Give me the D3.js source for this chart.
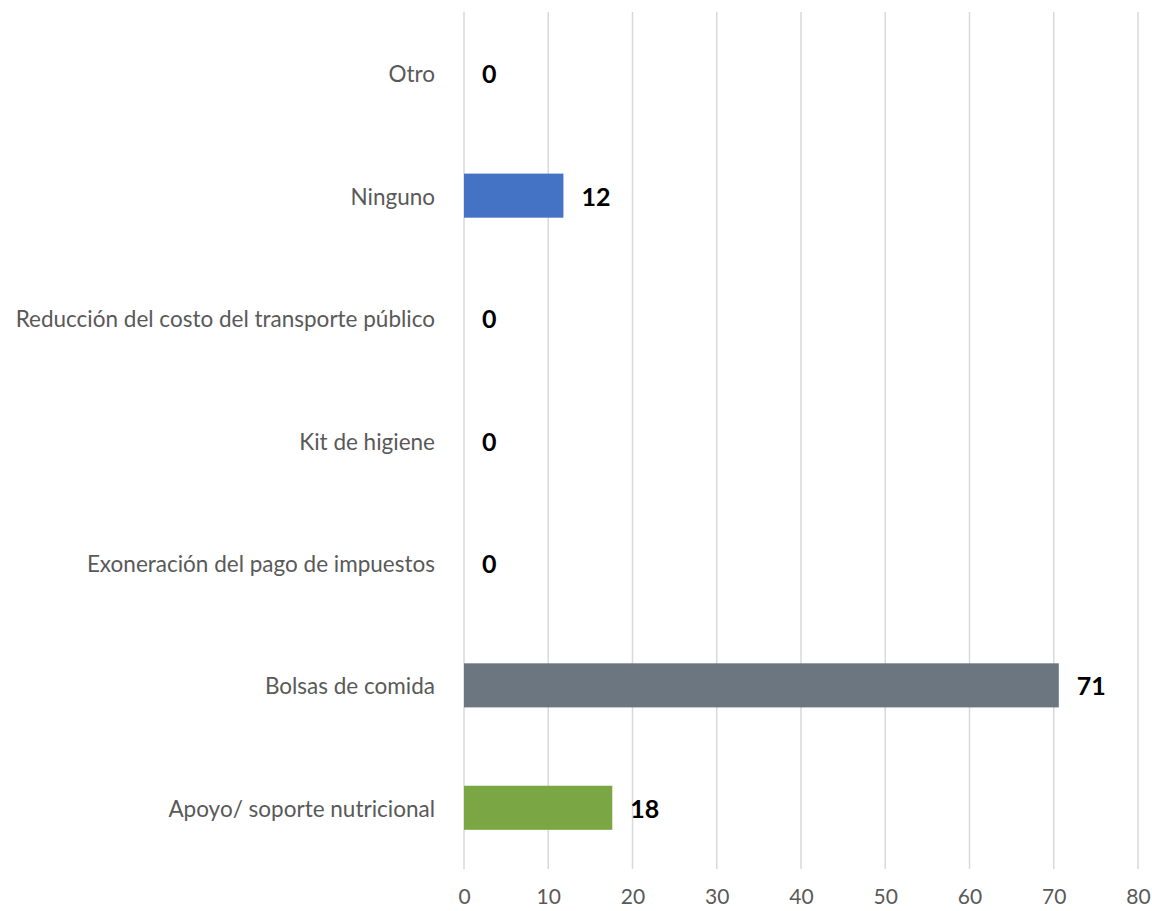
<!DOCTYPE html>
<html>
<head>
<meta charset="utf-8">
<script src="https://cdn.jsdelivr.net/npm/d3@7"></script>
<style>
  body { margin: 0; background: #fff; }
</style>
</head>
<body>
<div id="chart"></div>
<script>
// categories, top to bottom as drawn
var categories = [
    "Otro",
    "Ninguno",
    "Reducción del costo del transporte público",
    "Kit de higiene",
    "Exoneración del pago de impuestos",
    "Bolsas de comida",
    "Apoyo/ soporte nutricional"
];
var values = [0, 11.8, 0, 0, 0, 70.6, 17.6];
var barColors = ["#4472c4", "#4472c4", "#4472c4", "#4472c4", "#4472c4", "#6c7680", "#7aa744"];
var tickValues = [0, 10, 20, 30, 40, 50, 60, 70, 80];

var width = 1152;
var height = 911;
var margin = {top: 12, right: 14, bottom: 42, left: 464};
var fontFamily = "Lato, 'Open Sans', sans-serif";

var svg = d3.select("#chart").append("svg")
    .attr("width", width)
    .attr("height", height);

var x = d3.scaleLinear()
    .domain([0, 80])
    .range([margin.left, width - margin.right]);

var y = d3.scaleBand()
    .domain(categories)
    .range([margin.top, height - margin.bottom])
    .paddingInner(0.64)
    .paddingOuter(0.32);

// vertical gridlines
svg.append("g")
    .selectAll("line")
    .data(tickValues)
    .enter()
    .append("line")
    .attr("x1", function(d) { return x(d); })
    .attr("x2", function(d) { return x(d); })
    .attr("y1", margin.top)
    .attr("y2", height - margin.bottom)
    .attr("stroke", "#d9d9d9")
    .attr("stroke-width", 1.5);

// x axis labels
var xAxis = d3.axisBottom(x)
    .tickValues(tickValues)
    .tickSize(0)
    .tickPadding(20);

var gx = svg.append("g")
    .attr("transform", "translate(0," + (height - margin.bottom) + ")")
    .call(xAxis);
gx.select(".domain").remove();
gx.selectAll("text")
    .style("font-family", fontFamily)
    .style("font-size", "21px")
    .attr("fill", "#595959");

// category labels
var yAxis = d3.axisLeft(y)
    .tickSize(0)
    .tickPadding(29);

var gy = svg.append("g")
    .attr("transform", "translate(" + margin.left + ",0)")
    .call(yAxis);
gy.select(".domain").remove();
gy.selectAll("text")
    .attr("dy", "0.4em")
    .style("font-family", fontFamily)
    .style("font-size", "22.5px")
    .attr("fill", "#595959");

// bars
svg.selectAll("rect.bar")
    .data(values)
    .enter()
    .append("rect")
    .attr("class", "bar")
    .attr("x", x(0))
    .attr("y", function(d, i) { return y(categories[i]); })
    .attr("width", function(d) { return x(d) - x(0); })
    .attr("height", y.bandwidth())
    .attr("fill", function(d, i) { return barColors[i]; });

// value labels
svg.selectAll("text.value")
    .data(values)
    .enter()
    .append("text")
    .attr("class", "value")
    .attr("x", function(d) { return x(d) + 18; })
    .attr("y", function(d, i) { return y(categories[i]) + y.bandwidth() / 2; })
    .attr("dy", "0.4em")
    .style("font-family", fontFamily)
    .style("font-size", "25px")
    .style("font-weight", "bold")
    .attr("fill", "#000")
    .text(function(d) { return d3.format(".0f")(d); });
</script>
</body>
</html>
